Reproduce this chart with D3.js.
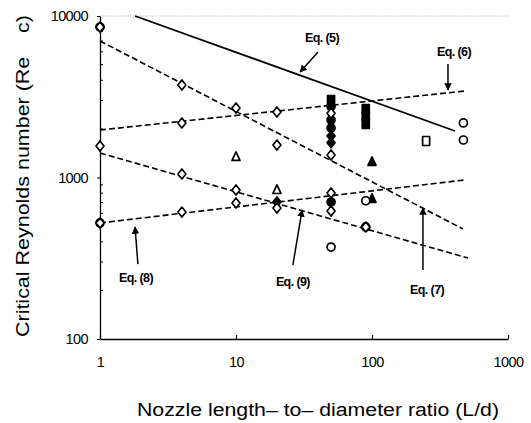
<!DOCTYPE html>
<html>
<head>
<meta charset="utf-8">
<script src="https://cdn.jsdelivr.net/npm/d3@7"></script>
<style>
  body { margin: 0; background: #fff; }
  svg { display: block; font-family: "Liberation Sans", Arial, sans-serif; }
</style>
</head>
<body>
<svg id="chart"></svg>
<script>
// correlation lines, [L/d, Re_c] end points
const eqLines = [
    { name: "Eq5", dashed: false, pts: [[1.81, 10000], [408, 1940]] },
    { name: "Eq6", dashed: true,  pts: [[1, 1968], [483, 3433]] },
    { name: "Eq7", dashed: true,  pts: [[1, 7000], [467, 480]] },
    { name: "Eq9", dashed: true,  pts: [[1, 1418], [508, 317]] },
    { name: "Eq8", dashed: true,  pts: [[1, 523], [483, 966]] }
];

// measured points
const openDiamonds = [
    [1, 8550], [1, 1567], [1, 523],
    [4, 3740], [4, 2176], [4, 1052], [4, 611],
    [10, 2693], [10, 837], [10, 695],
    [20, 2545], [20, 1589], [20, 647],
    [50, 2500], [50, 1378], [50, 802], [50, 620],
    [90, 494]
];
const openCircles = [[1, 8550], [1, 523], [50, 371], [90, 718], [90, 494], [470, 2176], [470, 1707]];
const openTriangles = [[10, 1340], [20, 837]];
const openSquares = [[250, 1683]];
const filledTriangles = [[100, 1248], [100, 738]];
const filledSquares = [[50, 3020], [90, 2650], [90, 2400], [90, 2150]];
const filledCircles = [[50, 2750], [50, 2270], [50, 2024], [50, 705]];
const filledDiamonds = [[20, 705], [50, 1808], [50, 1640]];

// labels and arrows: label pos, arrow tail, arrow head
const notes = [
    { text: "Eq. (5)", at: [42.9, 7310], from: [40.1, 5985], to: [29.6, 4500] },
    { text: "Eq. (6)", at: [401, 5985], from: [362, 5045], to: [362, 3483] },
    { text: "Eq. (7)", at: [254, 201], from: [237, 267], to: [237, 647] },
    { text: "Eq. (8)", at: [1.84, 239], from: [1.90, 291], to: [1.81, 494] },
    { text: "Eq. (9)", at: [26.2, 225], from: [26.2, 287], to: [30.6, 629] }
];

const xTicks = [1, 10, 100, 1000];
const yTicks = [100, 1000, 10000];

const width = 531, height = 423;
const svg = d3.select("#chart").attr("width", width).attr("height", height);

const x = d3.scaleLog().domain([1, 1000]).range([100, 508]);
const y = d3.scaleLog().domain([100, 10000]).range([339, 16]);

// dotted top frame line
svg.append("line")
    .attr("x1", x(1)).attr("x2", x(1000) + 2)
    .attr("y1", y(10000)).attr("y2", y(10000))
    .attr("stroke", "#888").attr("stroke-width", 0.8)
    .attr("stroke-dasharray", "1,1.5");

// x axis
const xAxis = svg.append("g")
    .attr("transform", `translate(0,${y(100)})`)
    .call(d3.axisBottom(x).tickValues(xTicks).tickFormat(d3.format("d"))
        .tickSizeInner(-4).tickSizeOuter(0).tickPadding(18));
xAxis.select(".domain").attr("stroke-width", 1.3);
xAxis.selectAll(".tick line").attr("stroke-width", 1.2);
xAxis.selectAll("text").attr("font-size", 14.5).attr("letter-spacing", -0.6)
    .attr("font-family", "'Liberation Sans', Arial, sans-serif");

// y axis
const yAxis = svg.append("g")
    .attr("transform", `translate(${x(1)},0)`)
    .call(d3.axisLeft(y).tickValues(yTicks).tickFormat(d3.format("d"))
        .tickSizeInner(3).tickSizeOuter(0).tickPadding(9));
yAxis.select(".domain").attr("stroke-width", 1.3);
yAxis.selectAll("text").attr("font-size", 14.5).attr("letter-spacing", -0.6)
    .attr("font-family", "'Liberation Sans', Arial, sans-serif");

// minor ticks inside the left axis
const minor = [];
[100, 1000].forEach(b => { for (let k = 2; k <= 9; k++) minor.push(b * k); });
svg.append("g").selectAll("line").data(minor).join("line")
    .attr("x1", x(1)).attr("x2", x(1) + 3)
    .attr("y1", d => y(d)).attr("y2", d => y(d))
    .attr("stroke", "#000").attr("stroke-width", 1);

// axis titles
svg.append("text")
    .attr("x", 318).attr("y", 416)
    .attr("text-anchor", "middle").attr("font-size", 18)
    .attr("textLength", 362).attr("lengthAdjust", "spacingAndGlyphs")
    .text("Nozzle length\u2013 to\u2013 diameter ratio (L/d)");

svg.append("text")
    .attr("transform", `translate(29,176) rotate(-90)`)
    .attr("text-anchor", "middle").attr("font-size", 18.5)
    .attr("textLength", 322).attr("lengthAdjust", "spacingAndGlyphs")
    .text("Critical Reynolds number (Re\u00a0\u00a0\u00a0\u00a0c)");

// correlation lines
const line = d3.line().x(d => x(d[0])).y(d => y(d[1]));
svg.append("g").selectAll("path").data(eqLines).join("path")
    .attr("d", d => line(d.pts))
    .attr("fill", "none").attr("stroke", "#000")
    .attr("stroke-width", d => d.dashed ? 1.6 : 1.8)
    .attr("stroke-dasharray", d => d.dashed ? "6,3" : null);

// markers
const diamond = "M0,-5L4,0L0,5L-4,0Z";
const triangle = "M0,-5L4,3.5L-4,3.5Z";
const square = "M-3.5,-4.5H3.5V4.5H-3.5Z";
function drawMarks(data, shape, filled) {
    const g = svg.append("g");
    if (shape === "circle") {
        g.selectAll("circle").data(data).join("circle")
            .attr("cx", d => x(d[0])).attr("cy", d => y(d[1])).attr("r", 4)
            .attr("fill", filled ? "#000" : "#fff").attr("stroke", "#000").attr("stroke-width", 1.7);
    } else {
        g.selectAll("path").data(data).join("path")
            .attr("transform", d => `translate(${x(d[0])},${y(d[1])})`)
            .attr("d", shape)
            .attr("fill", filled ? "#000" : "#fff").attr("stroke", "#000").attr("stroke-width", 1.7)
            .attr("stroke-linejoin", "round");
    }
}
drawMarks(filledCircles, "circle", true);
drawMarks(filledDiamonds, diamond, true);
drawMarks(filledSquares, square, true);
drawMarks(filledTriangles, triangle, true);
drawMarks(openCircles, "circle", false);
drawMarks(openDiamonds, diamond, false);
drawMarks(openTriangles, triangle, false);
drawMarks(openSquares, square, false);

// annotations
svg.append("defs").append("marker")
    .attr("id", "head").attr("viewBox", "0 0 10 10")
    .attr("refX", 9).attr("refY", 5)
    .attr("markerWidth", 5).attr("markerHeight", 6)
    .attr("orient", "auto")
    .append("path").attr("d", "M0,0L10,5L0,10Z").attr("fill", "#000");

const ann = svg.append("g");
ann.selectAll("line").data(notes).join("line")
    .attr("x1", d => x(d.from[0])).attr("y1", d => y(d.from[1]))
    .attr("x2", d => x(d.to[0])).attr("y2", d => y(d.to[1]))
    .attr("stroke", "#000").attr("stroke-width", 1.5)
    .attr("marker-end", "url(#head)");
ann.selectAll("text").data(notes).join("text")
    .attr("x", d => x(d.at[0])).attr("y", d => y(d.at[1]))
    .attr("dy", "0.35em").attr("text-anchor", "middle")
    .attr("font-size", 12.5).attr("font-weight", "bold").attr("letter-spacing", -0.6)
    .text(d => d.text);
</script>
</body>
</html>
